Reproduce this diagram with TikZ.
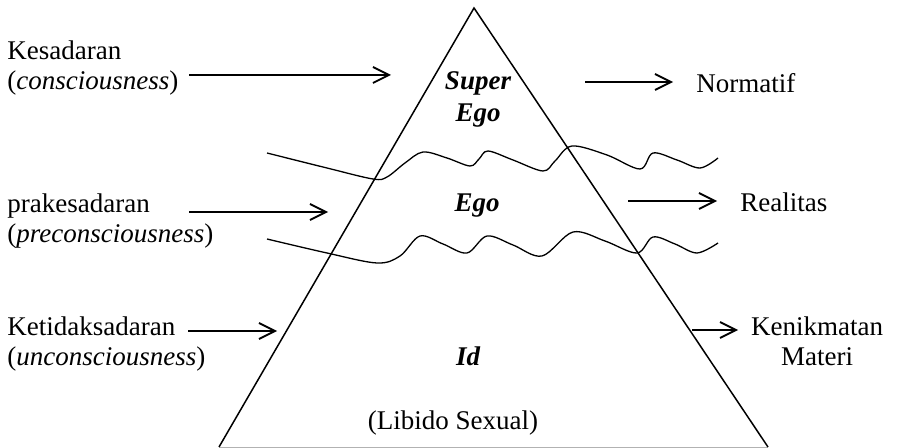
\documentclass[tikz,border=0pt]{standalone}
\usepackage{fontspec}
\setmainfont{Liberation Serif}
\usetikzlibrary{arrows.meta}
\tikzset{
  lbl/.style={font=\fontsize{13.5}{15}\selectfont, inner sep=0pt, align=left},
  lyr/.style={font=\fontsize{13.5}{16}\selectfont\bfseries\itshape, inner sep=0pt, align=center},
  pointer/.style={line width=0.9pt, -{Straight Barb[length=8pt,width=8pt,line width=0.9pt]}},
  wave/.style={line width=0.65pt},
}
\begin{document}
\begin{tikzpicture}[x=0.5pt,y=-0.5pt]
  \useasboundingbox (0,0) rectangle (898,448);
  % pyramid
  \coordinate (top) at (474,8);
  \coordinate (bl) at (219,447);
  \coordinate (br) at (768,447);
  \draw[gray!60, line width=0.5pt] (bl) -- (br);
  \draw[line width=0.75pt, line join=miter] (bl) -- (top) -- (br);
  % borders between the layers
  \draw[wave] plot[smooth, tension=0.55] coordinates {(267,153) (327,168) (373,179) (387,177)
    (405,163) (423,152) (447,158) (470,166) (479,159) (488,151) (513,160) (543,171)
    (555,161) (572,146) (607,155) (640,169) (653,153) (677,160) (700,168) (718,158)};
  \draw[wave] plot[smooth, tension=0.55] coordinates {(267,239) (327,253) (377,263) (400,256)
    (420,236) (443,244) (467,253) (487,236) (513,245) (542,256) (573,232) (605,241)
    (637,253) (653,237) (675,244) (697,253) (718,243)};
  % layers
  \node[lyr, anchor=base] (super) at (478,122) {Super\\Ego};
  \node[lyr, anchor=base] (ego) at (477,212) {Ego};
  \node[lyr, anchor=base] (id) at (468,365) {Id};
  \node[lbl, anchor=base] (libido) at (453,429) {(Libido Sexual)};
  % left labels
  \node[lbl, anchor=base west] (kes) at (7,90) {Kesadaran\\(\textit{consciousness})};
  \node[lbl, anchor=base west] (pra) at (7,243) {prakesadaran\\(\textit{preconsciousness})};
  \node[lbl, anchor=base west] (ketid) at (7,365) {Ketidaksadaran\\(\textit{unconsciousness})};
  % right labels
  \node[lbl, anchor=base west] (norm) at (696,93) {Normatif};
  \node[lbl, anchor=base west] (real) at (740,212) {Realitas};
  \node[lbl, align=center, anchor=base] (nikmat) at (817,365) {Kenikmatan\\Materi};
  % arrows
  \coordinate (kesA) at (189,75);
  \coordinate (kesB) at (391,75);
  \coordinate (praA) at (189,212);
  \coordinate (praB) at (328,212);
  \coordinate (ketA) at (188,331);
  \coordinate (ketB) at (277,331);
  \coordinate (normA) at (585,82);
  \coordinate (normB) at (673,82);
  \coordinate (realA) at (628,201);
  \coordinate (realB) at (717,201);
  \coordinate (nikA) at (692,330);
  \coordinate (nikB) at (738,330);
  \draw[pointer] (kesA) -- (kesB);
  \draw[pointer] (praA) -- (praB);
  \draw[pointer] (ketA) -- (ketB);
  \draw[pointer] (normA) -- (normB);
  \draw[pointer] (realA) -- (realB);
  \draw[pointer] (nikA) -- (nikB);
\end{tikzpicture}
\end{document}
